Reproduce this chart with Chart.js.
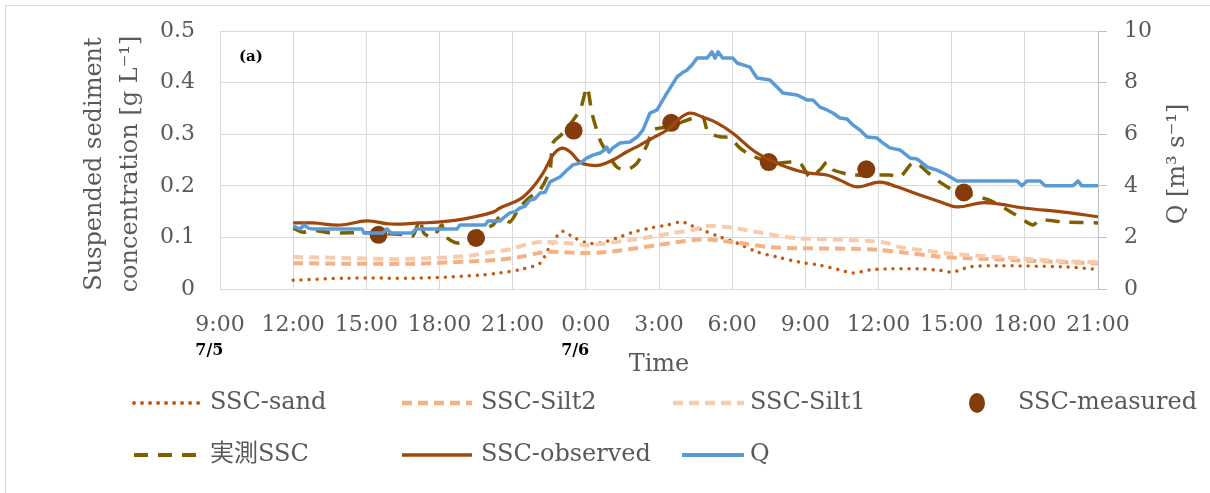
<!DOCTYPE html>
<html>
<head>
<meta charset="utf-8">
<script src="https://cdn.jsdelivr.net/npm/chart.js@4.4.1/dist/chart.umd.min.js"></script>
<style>
  html, body { margin: 0; padding: 0; background: #fff; }
  #wrap { width: 1210px; height: 493px; }
</style>
</head>
<body>
<div id="wrap"><canvas id="c" width="1210" height="493"></canvas></div>
<script>
// x values are hours elapsed since 7/5 9:00
const timeLabels = ['9:00','12:00','15:00','18:00','21:00','0:00','3:00','6:00','9:00','12:00','15:00','18:00','21:00'];
const dateLabels = ['7/5', '7/6'];
const dateHours = [0, 15];
const sscTickLabels = ['0','0.1','0.2','0.3','0.4','0.5'];
const qTickLabels = ['0','2','4','6','8','10'];

// discharge Q [m3/s]
const qHours = [3.0,3.28,3.44,3.65,3.81,5.82,5.90,6.68,6.85,7.01,7.87,8.04,9.72,9.84,10.87,10.99,11.48,11.68,11.89,12.10,12.30,12.50,12.71,12.92,13.12,13.33,13.53,13.94,14.23,14.47,14.76,15.05,15.29,15.58,15.78,15.86,15.95,16.11,16.40,16.81,17.10,17.34,17.63,17.92,18.33,18.74,18.94,19.15,19.35,19.56,19.97,20.17,20.30,20.42,20.62,21.03,21.20,21.73,22.02,22.55,22.84,23.08,23.66,24.07,24.31,24.60,24.89,25.13,25.42,25.71,25.95,26.24,26.53,26.94,27.18,27.47,27.88,28.29,28.58,28.99,29.40,29.81,30.22,32.68,32.88,33.09,33.62,33.83,34.97,35.18,35.34,36.0];
const qValues = [2.44,2.33,2.48,2.35,2.33,2.33,2.17,2.17,2.33,2.17,2.17,2.33,2.33,2.48,2.48,2.64,2.64,2.80,2.95,3.00,3.14,3.20,3.45,3.50,3.72,3.75,4.15,4.34,4.61,4.81,4.88,5.08,5.19,5.27,5.40,5.50,5.30,5.47,5.66,5.70,5.89,6.16,6.82,6.94,7.60,8.22,8.37,8.49,8.68,8.95,8.95,9.19,8.95,9.19,8.95,8.95,8.76,8.60,8.18,8.10,7.83,7.60,7.52,7.33,7.33,7.05,6.94,6.82,6.63,6.59,6.36,6.16,5.89,5.85,5.66,5.47,5.39,5.08,5.04,4.73,4.61,4.42,4.19,4.19,4.00,4.19,4.19,4.00,4.00,4.19,4.00,4.00];

// simulated total SSC [g/L]
const obsHours = [3.0,3.81,4.92,6.03,6.97,8.2,9.02,10.13,11.19,11.48,12.3,12.84,13.25,13.66,14.02,14.35,14.76,15.17,15.58,16.11,16.69,17.22,17.75,18.33,18.86,19.27,19.80,20.37,21.03,21.85,22.55,23.25,24.07,24.89,25.42,26.12,27.06,27.76,28.70,29.52,30.22,31.2,31.9,32.96,34.6,36.0];
const obsValues = [0.128,0.128,0.124,0.132,0.126,0.128,0.130,0.137,0.149,0.157,0.174,0.198,0.225,0.260,0.273,0.266,0.246,0.240,0.240,0.250,0.266,0.279,0.293,0.308,0.331,0.341,0.333,0.322,0.302,0.269,0.250,0.236,0.225,0.221,0.211,0.198,0.207,0.198,0.182,0.169,0.159,0.167,0.165,0.157,0.149,0.140];

// turbidity-based SSC record
const jHours = [3.0,3.40,3.81,4.51,6.15,7.67,7.91,8.20,8.36,8.73,9.10,9.22,9.72,10.13,10.66,11.19,11.48,11.89,12.30,12.71,13.12,13.53,13.65,14.06,14.76,15.05,15.25,15.58,15.87,16.28,16.69,17.10,17.51,17.75,18.33,18.86,19.39,19.80,20.01,20.50,20.91,21.32,21.73,22.26,22.84,23.37,23.78,24.19,24.60,24.89,25.13,25.95,27.47,27.88,28.37,28.58,28.99,29.52,30.05,30.75,31.57,32.51,33.33,33.62,34.56,36.0];
const jValues = [0.118,0.110,0.114,0.109,0.109,0.105,0.103,0.134,0.108,0.101,0.124,0.103,0.089,0.097,0.114,0.124,0.140,0.130,0.159,0.178,0.192,0.231,0.283,0.302,0.347,0.391,0.341,0.289,0.264,0.236,0.231,0.244,0.279,0.308,0.314,0.322,0.331,0.333,0.304,0.295,0.293,0.273,0.260,0.250,0.244,0.246,0.244,0.217,0.231,0.246,0.231,0.221,0.221,0.217,0.244,0.244,0.227,0.207,0.192,0.182,0.172,0.147,0.124,0.134,0.130,0.128];

// bottle samples
const measHours = [6.5,10.5,14.5,18.5,22.5,26.5,30.5];
const measValues = [0.105,0.099,0.307,0.322,0.246,0.232,0.187];

// size fractions
const sandHours = [3.0,5.22,7.9,9.27,10.66,11.48,12.43,13.12,13.45,13.86,14.06,14.47,15.05,15.58,16.28,16.93,17.63,18.33,18.94,19.27,19.80,20.50,21.20,22.02,22.84,23.78,24.60,25.42,25.95,26.65,27.35,28.70,29.52,30.05,30.75,31.86,34.56,36.0];
const sandValues = [0.017,0.021,0.021,0.023,0.027,0.031,0.039,0.050,0.076,0.105,0.112,0.101,0.089,0.089,0.099,0.110,0.118,0.124,0.130,0.124,0.114,0.101,0.089,0.072,0.062,0.052,0.046,0.037,0.031,0.037,0.039,0.039,0.036,0.033,0.043,0.045,0.043,0.038];

const silt2Hours = [3.0,5.22,7.9,10.13,11.48,12.3,13.0,13.53,14.76,15.71,17.06,18.04,19.4,20.0,20.6,21.32,22.55,23.9,25.95,26.94,28.16,29.4,30.5,32.5,34.56,36.0];
const silt2Values = [0.050,0.049,0.049,0.053,0.057,0.062,0.069,0.072,0.070,0.071,0.079,0.086,0.095,0.096,0.093,0.089,0.081,0.079,0.078,0.076,0.070,0.063,0.060,0.056,0.052,0.050];

const silt1Hours = [3.0,5.22,6.97,8.73,10.13,11.19,12.0,12.6,13.2,14.2,15.05,15.58,17.4,18.53,19.35,19.97,20.8,21.6,22.9,23.78,24.6,26.65,27.35,27.9,28.7,30.05,32.5,34.56,36.0];
const silt1Values = [0.062,0.060,0.058,0.060,0.064,0.072,0.078,0.087,0.091,0.089,0.085,0.087,0.099,0.108,0.114,0.122,0.120,0.114,0.103,0.098,0.097,0.093,0.089,0.081,0.076,0.068,0.060,0.054,0.052];

const yTitle = ['Suspended sediment', 'concentration [g L\u207B\u00B9]'];
const y2Title = 'Q [m\u00B3 s\u207B\u00B9]';
const xTitle = 'Time';
const panelTag = '(a)';

const pairs = (hs, vs) => hs.map((h, i) => ({ x: h, y: vs[i] }));

const GREY = '#595959';
const SERIF = '"DejaVu Serif", "Noto Sans CJK JP", serif';

const styles = {
  'SSC-sand':     { color: '#C55A11', width: 3.5, dash: [0.01, 8], cap: 'round' },
  'SSC-Silt2':    { color: '#F4B183', width: 4, dash: [10, 6], cap: 'butt' },
  'SSC-Silt1':    { color: '#F8CBAD', width: 4, dash: [10, 6], cap: 'butt' },
  'SSC-measured': { color: '#843C0C' },
  '実測SSC':       { color: '#7F6000', width: 3.5, dash: [14, 10], cap: 'butt' },
  'SSC-observed': { color: '#9E480E', width: 3.2, dash: [], cap: 'butt' },
  'Q':            { color: '#5B9BD5', width: 3.5, dash: [], cap: 'butt' }
};

function lineSet(name, hs, vs, tension, axis) {
  const s = styles[name];
  return {
    label: name, data: pairs(hs, vs), yAxisID: axis || 'y',
    borderColor: s.color, borderWidth: s.width, borderDash: s.dash, borderCapStyle: s.cap,
    borderJoinStyle: 'round', pointRadius: 0, tension: tension, fill: false
  };
}

// first dataset is drawn on top
const datasets = [
  lineSet('Q', qHours, qValues, 0, 'y2'),
  lineSet('SSC-observed', obsHours, obsValues, 0.4),
  {
    label: 'SSC-measured', data: pairs(measHours, measValues), yAxisID: 'y',
    showLine: false, pointRadius: 9, pointHoverRadius: 9, pointBorderWidth: 0,
    pointBackgroundColor: styles['SSC-measured'].color, borderColor: styles['SSC-measured'].color
  },
  lineSet('実測SSC', jHours, jValues, 0.25),
  lineSet('SSC-Silt1', silt1Hours, silt1Values, 0.3),
  lineSet('SSC-Silt2', silt2Hours, silt2Values, 0.3),
  lineSet('SSC-sand', sandHours, sandValues, 0.3)
];

// legend grid: rows of [name, sampleStart, sampleEnd, textX]
const legendRows = [
  { y: 403, items: [['SSC-sand', 134, 203, 210], ['SSC-Silt2', 402, 472, 481], ['SSC-Silt1', 673, 744, 750], ['SSC-measured', 967, 987, 1018]] },
  { y: 455, items: [['実測SSC', 134, 203, 210], ['SSC-observed', 402, 472, 481], ['Q', 682, 744, 750]] }
];

const decorations = {
  id: 'decorations',
  beforeDraw(chart) {
    const ctx = chart.ctx;
    ctx.save();
    ctx.fillStyle = '#ffffff';
    ctx.fillRect(0, 0, chart.width, chart.height);
    ctx.restore();
  },
  afterDraw(chart) {
    const { ctx, chartArea, scales } = chart;
    ctx.save();

    // chart frame
    ctx.strokeStyle = '#d9d9d9';
    ctx.lineWidth = 1;
    ctx.strokeRect(5.5, 5.5, 1220, 520);

    // axis titles
    ctx.fillStyle = GREY;
    ctx.font = '24px ' + SERIF;
    ctx.textAlign = 'center';
    ctx.textBaseline = 'middle';
    const midY = (chartArea.top + chartArea.bottom) / 2 + 4;
    [95, 131].forEach((x, i) => {
      ctx.save();
      ctx.translate(x, midY);
      ctx.rotate(-Math.PI / 2);
      ctx.fillText(yTitle[i], 0, 0);
      ctx.restore();
    });
    ctx.save();
    ctx.translate(1178, midY);
    ctx.rotate(-Math.PI / 2);
    ctx.fillText(y2Title, 0, 0);
    ctx.restore();
    ctx.fillText(xTitle, (chartArea.left + chartArea.right) / 2, 365);

    // day markers under the first tick of each day
    ctx.font = '22px ' + SERIF;
    ctx.textAlign = 'left';
    dateHours.forEach((h, i) => {
      const tickText = timeLabels[Math.round(h / 3)];
      const half = ctx.measureText(tickText).width / 2;
      const x = scales.x.getPixelForValue(h) - half;
      ctx.save();
      ctx.font = 'bold 16px ' + SERIF;
      ctx.fillStyle = '#000';
      ctx.fillText(dateLabels[i], x, 351);
      ctx.restore();
    });

    // panel tag
    ctx.font = 'bold 15px ' + SERIF;
    ctx.fillStyle = '#000';
    ctx.fillText(panelTag, chartArea.left + 19, 57);

    // legend
    ctx.font = '24px ' + SERIF;
    legendRows.forEach(row => {
      row.items.forEach(([name, x0, x1, tx]) => {
        const s = styles[name];
        if (name === 'SSC-measured') {
          ctx.fillStyle = s.color;
          ctx.beginPath();
          ctx.ellipse((x0 + x1) / 2, row.y, 8, 10, 0, 0, Math.PI * 2);
          ctx.fill();
        } else {
          ctx.strokeStyle = s.color;
          ctx.lineWidth = s.width + 0.5;
          ctx.setLineDash(s.dash);
          ctx.lineCap = s.cap;
          ctx.beginPath();
          ctx.moveTo(x0, row.y);
          ctx.lineTo(x1, row.y);
          ctx.stroke();
          ctx.setLineDash([]);
          ctx.lineCap = 'butt';
        }
        ctx.fillStyle = GREY;
        ctx.textAlign = 'left';
        ctx.textBaseline = 'middle';
        ctx.fillText(name, tx, row.y);
      });
    });
    ctx.restore();
  }
};

const tickFont = { family: SERIF, size: 22 };

new Chart(document.getElementById('c'), {
  type: 'line',
  data: { datasets },
  options: {
    responsive: false,
    animation: false,
    devicePixelRatio: 1,
    events: [],
    layout: { padding: { top: 31, left: 0, right: 0, bottom: 0 } },
    plugins: { legend: { display: false }, tooltip: { enabled: false } },
    scales: {
      x: {
        type: 'linear', min: 0, max: 36,
        afterFit(s) { s.height = 204; },
        ticks: {
          stepSize: 3, autoSkip: false, maxRotation: 0, padding: 23,
          font: tickFont, color: GREY,
          callback: v => timeLabels[Math.round(v / 3)]
        },
        grid: { color: '#d9d9d9', lineWidth: 1, drawTicks: false },
        border: { color: '#d9d9d9' }
      },
      y: {
        position: 'left', min: 0, max: 0.5,
        afterFit(s) { s.width = 220; },
        ticks: {
          stepSize: 0.1, padding: 0, font: tickFont, color: GREY,
          callback: v => sscTickLabels[Math.round(v * 10)]
        },
        // invisible tick marks keep the labels clear of the plot edge
        grid: { color: '#d9d9d9', lineWidth: 1, drawTicks: true, tickLength: 25, tickColor: 'rgba(0,0,0,0)' },
        border: { display: false }
      },
      y2: {
        position: 'right', min: 0, max: 10,
        afterFit(s) { s.width = 112; },
        ticks: {
          stepSize: 2, padding: 17, font: tickFont, color: GREY,
          callback: v => qTickLabels[Math.round(v / 2)]
        },
        grid: { drawOnChartArea: false, drawTicks: true, tickLength: 9, color: '#bfbfbf' },
        border: { color: '#bfbfbf' }
      }
    }
  },
  plugins: [decorations]
});
</script>
</body>
</html>
